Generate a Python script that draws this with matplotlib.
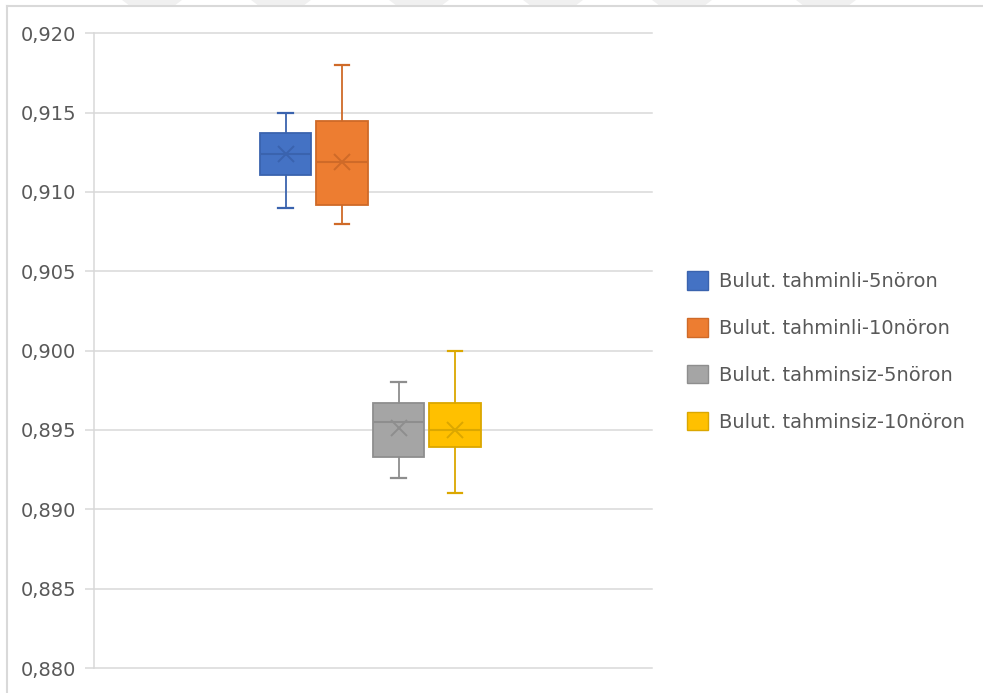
import matplotlib
matplotlib.use("Agg")
import matplotlib.pyplot as plt
from matplotlib.patches import Patch, Polygon
from matplotlib.lines import Line2D

# Series summary statistics (Excel-style box & whisker)
series_names = [
    "Bulut. tahminli-5nöron",
    "Bulut. tahminli-10nöron",
    "Bulut. tahminsiz-5nöron",
    "Bulut. tahminsiz-10nöron",
]
whisker_low = [0.909, 0.908, 0.892, 0.891]
q1_values = [0.9111, 0.9092, 0.8933, 0.8939]
median_values = [0.9124, 0.9119, 0.8955, 0.8950]
q3_values = [0.9137, 0.9145, 0.8967, 0.8967]
whisker_high = [0.915, 0.918, 0.898, 0.900]
mean_values = [0.9124, 0.9119, 0.8951, 0.8950]

y_ticks = [0.880, 0.885, 0.890, 0.895, 0.900, 0.905, 0.910, 0.915, 0.920]
y_tick_labels = ["0,880", "0,885", "0,890", "0,895", "0,900", "0,905", "0,910", "0,915", "0,920"]

fill_colors = ["#4472C4", "#ED7D31", "#A5A5A5", "#FFC000"]
edge_colors = ["#3A63AE", "#CF6A28", "#8E8E8E", "#DBA700"]

FONT = ["DejaVu Sans"]
FONT_SIZE = 14
TEXT_COLOR = "#595959"
GRID_COLOR = "#D9D9D9"

W, H = 983, 693
fig = plt.figure(figsize=(W / 100, H / 100), dpi=100)
fig.patch.set_facecolor("white")

# plot area in pixels
x0, x1 = 94, 652
y_top, y_bot = 33.3, 668
ax = fig.add_axes([x0 / W, 1 - y_bot / H, (x1 - x0) / W, (y_bot - y_top) / H])

positions = [1, 2, 3, 4]
step_px = 56.5
first_px = 285.5
ax.set_xlim(1 - (first_px - x0) / step_px, 1 + (x1 - first_px) / step_px)
ax.set_ylim(y_ticks[0], y_ticks[-1])

stats = []
for i, name in enumerate(series_names):
    stats.append(dict(
        label=name, whislo=whisker_low[i], q1=q1_values[i], med=median_values[i],
        q3=q3_values[i], whishi=whisker_high[i], mean=mean_values[i], fliers=[],
    ))

for i, st in enumerate(stats):
    ec = edge_colors[i]
    ax.bxp(
        [st], positions=[positions[i]], widths=0.92, patch_artist=True,
        showmeans=True, meanline=False, showfliers=False, capwidths=0.26,
        boxprops=dict(facecolor=fill_colors[i], edgecolor=ec, linewidth=1.3),
        whiskerprops=dict(color=ec, linewidth=1.3),
        capprops=dict(color=ec, linewidth=1.6),
        medianprops=dict(color=ec, linewidth=1.5),
        meanprops=dict(marker="x", markeredgecolor=ec, markersize=11.5, markeredgewidth=1.4),
        manage_ticks=False, zorder=3,
    )

ax.set_yticks(y_ticks)
ax.set_yticklabels(y_tick_labels, fontfamily=FONT, fontsize=FONT_SIZE, color=TEXT_COLOR)
ax.set_xticks([])
ax.tick_params(axis="y", length=6.5, width=1.1, color=GRID_COLOR, pad=6.5)
ax.grid(axis="y", color=GRID_COLOR, linewidth=1.1, zorder=0)
for gl in ax.get_ygridlines():
    gl.set_clip_on(False)
ax.set_axisbelow(True)
for side in ["top", "right", "bottom"]:
    ax.spines[side].set_visible(False)
ax.spines["left"].set_color(GRID_COLOR)
ax.spines["left"].set_linewidth(1.1)
ax.set_facecolor("none")

handles = [Patch(facecolor=fill_colors[i], edgecolor=edge_colors[i], linewidth=1.0)
           for i in range(len(series_names))]
fig.legend(
    handles, series_names, loc="center left", bbox_to_anchor=(687 / W, 1 - 351.5 / H),
    frameon=False, prop=dict(family=FONT, size=FONT_SIZE), labelcolor=TEXT_COLOR,
    handlelength=1.08, handleheight=1.08, handletextpad=0.55, labelspacing=1.39,
    borderaxespad=0, borderpad=0,
)

# chart-area frame
fig.add_artist(Line2D([7 / W, 7 / W], [0, 1 - 6 / H], color=GRID_COLOR, linewidth=1.5,
                      transform=fig.transFigure))
fig.add_artist(Line2D([7 / W, 1], [1 - 6 / H, 1 - 6 / H], color=GRID_COLOR, linewidth=1.5,
                      transform=fig.transFigure))

# faint slanted page band along the top edge
for left in [122, 251, 389, 523, 652, 796]:
    pts = [(left / W, 1), ((left + 60) / W, 1), ((left + 52) / W, 1 - 6 / H), ((left + 8) / W, 1 - 6 / H)]
    fig.add_artist(Polygon(pts, closed=True, facecolor="#F0F0F0", edgecolor="none",
                           transform=fig.transFigure))

fig.savefig("out.png", dpi=100, facecolor="white")
